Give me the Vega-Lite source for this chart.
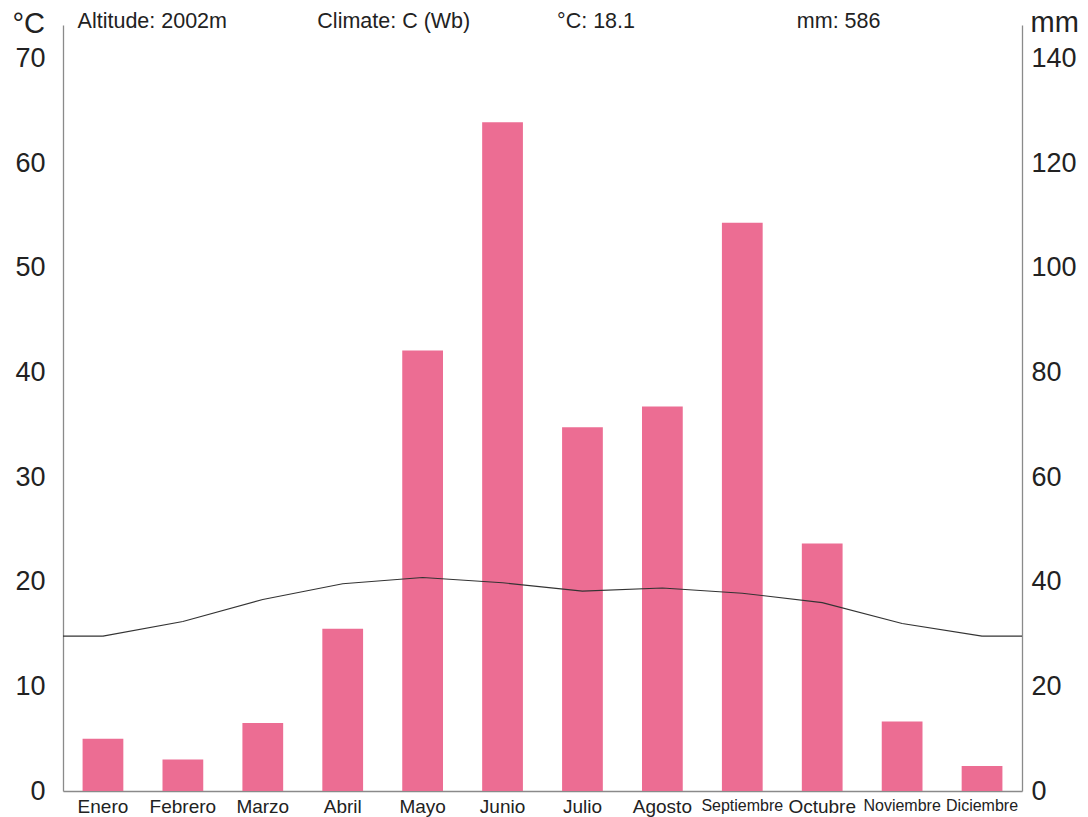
{
  "$schema": "https://vega.github.io/schema/vega-lite/v6.json",
  "width": 959,
  "height": 766,
  "autosize": {"type": "none"},
  "padding": {"left": 63, "top": 25, "right": 66, "bottom": 26},
  "background": "white",
  "config": {
    "view": {"stroke": null},
    "font": "Liberation Sans",
    "axis": {"grid": false, "ticks": false, "tickSize": 0, "domainColor": "#8a8a8a", "domainWidth": 1.3, "labelColor": "#222222", "titleColor": "#222222", "labelFont": "Liberation Sans", "titleFont": "Liberation Sans", "titleFontWeight": "normal"}
  },
  "datasets": {
    "months": [
      {"month": "Enero", "n": 1, "mm": 10, "t": 14.8},
      {"month": "Febrero", "n": 2, "mm": 6, "t": 16.2},
      {"month": "Marzo", "n": 3, "mm": 13, "t": 18.3},
      {"month": "Abril", "n": 4, "mm": 31, "t": 19.8},
      {"month": "Mayo", "n": 5, "mm": 84.2, "t": 20.4},
      {"month": "Junio", "n": 6, "mm": 127.8, "t": 19.9},
      {"month": "Julio", "n": 7, "mm": 69.5, "t": 19.1},
      {"month": "Agosto", "n": 8, "mm": 73.5, "t": 19.4},
      {"month": "Septiembre", "n": 9, "mm": 108.6, "t": 18.9},
      {"month": "Octubre", "n": 10, "mm": 47.3, "t": 18.0},
      {"month": "Noviembre", "n": 11, "mm": 13.3, "t": 16.0},
      {"month": "Diciembre", "n": 12, "mm": 4.8, "t": 14.8}
    ],
    "header": [
      {"label": "Altitude: 2002m", "at": "Enero"},
      {"label": "Climate: C (Wb)", "at": "Abril"},
      {"label": "°C: 18.1", "at": "Julio"},
      {"label": "mm: 586", "at": "Octubre"}
    ]
  },
  "layer": [
    {
      "layer": [
        {
          "data": {"name": "months"},
          "mark": {"type": "bar", "color": "#ec6d93"},
          "encoding": {
            "x": {
              "field": "month", "type": "nominal", "sort": null,
              "scale": {"domain": ["Enero","Febrero","Marzo","Abril","Mayo","Junio","Julio","Agosto","Septiembre","Octubre","Noviembre","Diciembre"], "paddingInner": 0.49, "paddingOuter": 0.245},
              "axis": {"title": null, "orient": "bottom", "labelAngle": 0, "labelPadding": 6, "labelFontSize": {"condition": {"test": "indexof(['Septiembre','Noviembre','Diciembre'], datum.value) >= 0", "value": 16}, "value": 19}}
            },
            "y": {
              "field": "mm", "type": "quantitative",
              "scale": {"domain": [0, 146.4], "nice": false, "zero": true},
              "axis": {"orient": "right", "values": [0,20,40,60,80,100,120,140], "labelFontSize": 27, "labelPadding": 9, "title": "mm", "titleAngle": 0, "titleFontSize": 29, "titleAlign": "left", "titleBaseline": "alphabetic", "titleX": 8, "titleY": 6}
            }
          }
        },
        {
          "data": {"name": "header"},
          "mark": {"type": "text", "align": "left", "baseline": "alphabetic", "fontSize": 21.5, "color": "#222222", "dx": -5, "dy": 3},
          "encoding": {
            "x": {"field": "at", "type": "nominal", "bandPosition": 0},
            "y": {"datum": 146.4, "type": "quantitative"},
            "text": {"field": "label"}
          }
        }
      ]
    },
    {
      "layer": [
        {
          "data": {"name": "months"},
          "mark": {"type": "line", "color": "#333333", "strokeWidth": 1.1},
          "encoding": {
            "x": {"field": "n", "type": "quantitative", "scale": {"domain": [0.5, 12.5], "nice": false, "zero": false}, "axis": null},
            "y": {
              "field": "t", "type": "quantitative",
              "scale": {"domain": [0, 73.2], "nice": false, "zero": true},
              "axis": {"orient": "left", "values": [0,10,20,30,40,50,60,70], "labelFontSize": 27, "labelPadding": 18, "title": "°C", "titleAngle": 0, "titleFontSize": 29, "titleAlign": "left", "titleBaseline": "alphabetic", "titleX": -51, "titleY": 7}
            }
          }
        },
        {
          "data": {"name": "months"},
          "transform": [{"filter": "datum.n == 1"}],
          "mark": {"type": "rule", "color": "#333333", "strokeWidth": 1.1},
          "encoding": {
            "x": {"field": "n", "type": "quantitative"},
            "x2": {"datum": 0.5},
            "y": {"field": "t", "type": "quantitative"}
          }
        },
        {
          "data": {"name": "months"},
          "transform": [{"filter": "datum.n == 12"}],
          "mark": {"type": "rule", "color": "#333333", "strokeWidth": 1.1},
          "encoding": {
            "x": {"field": "n", "type": "quantitative"},
            "x2": {"datum": 12.5},
            "y": {"field": "t", "type": "quantitative"}
          }
        }
      ]
    }
  ],
  "resolve": {"scale": {"x": "independent", "y": "independent"}}
}
